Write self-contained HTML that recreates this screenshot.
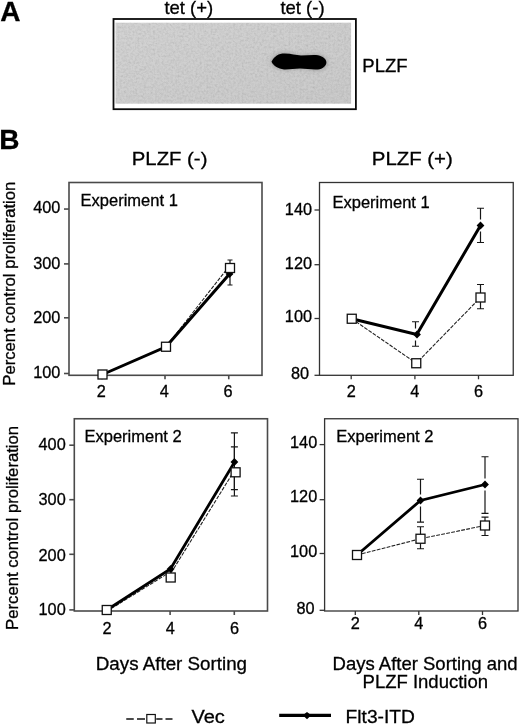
<!DOCTYPE html>
<html lang="en"><head><meta charset="utf-8"><title>Figure</title>
<style>
html,body{margin:0;padding:0;background:#fff;}
body{width:520px;height:726px;overflow:hidden;}
svg{display:block;}
text{font-family:"Liberation Sans",Arial,Helvetica,sans-serif;fill:#000;stroke:#000;stroke-width:0.3px;}
.t16{font-size:16.7px;}
.t18{font-size:18px;}
.t19{font-size:19.6px;}
.t185{font-size:18.5px;}
.tt{font-size:16.5px;}
.tk{font-size:16.3px;}
.t188{font-size:18.9px;}
.bold{font-size:28px;font-weight:bold;fill:#000;}
</style></head>
<body>
<svg width="520" height="726" viewBox="0 0 520 726">
<defs>
<linearGradient id="gg" x1="0" y1="0" x2="1" y2="1"><stop offset="0" stop-color="#d3d3d3"/><stop offset="1" stop-color="#cacaca"/></linearGradient>
<filter id="blur" x="-20%" y="-50%" width="140%" height="200%"><feGaussianBlur stdDeviation="0.7"/></filter>
<filter id="blur2" x="-30%" y="-80%" width="160%" height="260%"><feGaussianBlur stdDeviation="2.2"/></filter>
<filter id="noise" x="0" y="0" width="100%" height="100%">
<feTurbulence type="fractalNoise" baseFrequency="0.45" numOctaves="3" seed="3" result="n"/>
<feColorMatrix in="n" type="matrix" values="0 0 0 0 0  0 0 0 0 0  0 0 0 0 0  0.2 0.2 0.2 0 -0.25" result="a"/>
<feComposite in="a" in2="SourceGraphic" operator="in" result="dots"/>
<feMerge><feMergeNode in="SourceGraphic"/><feMergeNode in="dots"/></feMerge>
</filter>
</defs>
<rect width="520" height="726" fill="#fff"/>

<text x="0.3" y="20.7" class="bold">A</text>
<text x="188.8" y="13.6" text-anchor="middle" class="t185">tet (+)</text>
<text x="302.5" y="13.6" text-anchor="middle" class="t185">tet (-)</text>
<rect x="113.5" y="19.0" width="242.4" height="90.2" fill="#fff" stroke="#0a0a0a" stroke-width="1.8"/>
<rect x="115.5" y="22.7" width="235.6" height="81" fill="url(#gg)" filter="url(#noise)"/>
<g filter="url(#blur2)"><path d="M270.5 61.8C274 55 279 52.6 285 52.8C291 53 296 55.6 301 55.6C306 55.6 311 54.4 316 54.6C322 54.8 326.5 57.5 327.2 62C327.5 66.5 323 70 318 70.2C312 70.4 306 68.4 300 68.4C294 68.4 290 69.8 284 69.6C278 69.4 273 67 270.5 61.8Z" fill="#777" opacity="0.55"/></g>
<g filter="url(#blur)"><path d="M271.5 61.8C274.5 56 279 53.4 285 53.6C291 53.8 296 55.4 301 55.4C306 55.4 311 54.8 316 55C321.5 55.6 325.8 58 326.4 62C326.6 66 322.5 69.2 318 69.4C312 69.8 306 68.6 300 68.6C294 68.6 290 69.6 284 69.4C278 68.6 274 66.5 271.5 61.8Z" fill="#000"/></g>
<text x="362.3" y="71.5" class="t185">PLZF</text>
<text x="-0.8" y="148.5" class="bold">B</text>
<text transform="translate(169.6,165) scale(1.075,1)" text-anchor="middle" class="t188">PLZF (-)</text>
<text transform="translate(412.3,165) scale(1.08,1)" text-anchor="middle" class="t188">PLZF (+)</text>

<rect x="69.0" y="182.5" width="193.0" height="192.8" fill="#fff" stroke="#4a4a4a" stroke-width="1.6"/>
<line x1="64.0" y1="209.05" x2="69.0" y2="209.05" stroke="#4a4a4a" stroke-width="1.6"/>
<text x="60.4" y="213.35" text-anchor="end" class="tk">400</text>
<line x1="64.0" y1="263.9" x2="69.0" y2="263.9" stroke="#4a4a4a" stroke-width="1.6"/>
<text x="60.4" y="268.65" text-anchor="end" class="tk">300</text>
<line x1="64.0" y1="317.8" x2="69.0" y2="317.8" stroke="#4a4a4a" stroke-width="1.6"/>
<text x="60.4" y="322.55" text-anchor="end" class="tk">200</text>
<line x1="64.0" y1="373.5" x2="69.0" y2="373.5" stroke="#4a4a4a" stroke-width="1.6"/>
<text x="60.4" y="378.25" text-anchor="end" class="tk">100</text>
<line x1="102" y1="375.3" x2="102" y2="379.3" stroke="#4a4a4a" stroke-width="1.6"/>
<text x="101.4" y="396.8" text-anchor="middle" class="tk">2</text>
<line x1="165" y1="375.3" x2="165" y2="379.3" stroke="#4a4a4a" stroke-width="1.6"/>
<text x="164.4" y="396.8" text-anchor="middle" class="tk">4</text>
<line x1="228.75" y1="375.3" x2="228.75" y2="379.3" stroke="#4a4a4a" stroke-width="1.6"/>
<text x="228.15" y="396.8" text-anchor="middle" class="tk">6</text>
<text x="80.6" y="205.6" class="tt">Experiment 1</text>
<path d="M102.5 374.5L166 346.75L226 270.3" stroke="#222" stroke-width="1.1" fill="none" stroke-dasharray="3.8 1.3"/>
<path d="M102.5 374.5L166 346.75L229.5 274" stroke="#000" stroke-width="3.0" fill="none" stroke-linejoin="miter"/>
<path d="M230 260V268M227.5 260H232.5M227.5 268H232.5" stroke="#161616" stroke-width="1.2" fill="none"/>
<path d="M230 274V285M227.5 274H232.5M227.5 285H232.5" stroke="#161616" stroke-width="1.2" fill="none"/>
<path d="M225.6 274L229.5 270.1L233.4 274L229.5 277.9Z" fill="#000"/>
<rect x="98.0" y="370.0" width="9" height="9" fill="#fff" stroke="#111" stroke-width="1.3"/>
<rect x="161.5" y="342.25" width="9" height="9" fill="#fff" stroke="#111" stroke-width="1.3"/>
<rect x="225.5" y="263.5" width="9" height="9" fill="#fff" stroke="#111" stroke-width="1.3"/>
<rect x="319.5" y="182.5" width="193.75" height="192.8" fill="#fff" stroke="#333" stroke-width="1.3"/>
<line x1="314.5" y1="210" x2="319.5" y2="210" stroke="#333" stroke-width="1.3"/>
<text x="312.0" y="215.25" text-anchor="end" class="tk">140</text>
<line x1="314.5" y1="264.7" x2="319.5" y2="264.7" stroke="#333" stroke-width="1.3"/>
<text x="312.0" y="269.05" text-anchor="end" class="tk">120</text>
<line x1="314.5" y1="318.5" x2="319.5" y2="318.5" stroke="#333" stroke-width="1.3"/>
<text x="312.0" y="322.15" text-anchor="end" class="tk">100</text>
<line x1="314.5" y1="375.3" x2="319.5" y2="375.3" stroke="#333" stroke-width="1.3"/>
<text x="309.20000000000005" y="379.25" text-anchor="end" class="tk">80</text>
<line x1="351.2" y1="375.3" x2="351.2" y2="379.3" stroke="#333" stroke-width="1.3"/>
<text x="351.2" y="396.5" text-anchor="middle" class="tk">2</text>
<line x1="414.9" y1="375.3" x2="414.9" y2="379.3" stroke="#333" stroke-width="1.3"/>
<text x="414.9" y="396.5" text-anchor="middle" class="tk">4</text>
<line x1="478.5" y1="375.3" x2="478.5" y2="379.3" stroke="#333" stroke-width="1.3"/>
<text x="478.5" y="396.5" text-anchor="middle" class="tk">6</text>
<text x="332.5" y="207.6" class="tt">Experiment 1</text>
<path d="M351.75 318.75L416.25 363.25L480.5 297.5" stroke="#222" stroke-width="1.1" fill="none" stroke-dasharray="3.8 1.3"/>
<path d="M351.75 318.75L416.75 334.5L480.5 225.5" stroke="#000" stroke-width="3.0" fill="none" stroke-linejoin="miter"/>
<path d="M415.5 321.75V328.5M415.5 340.5V346.25M412.0 321.75H419.0M412.0 346.25H419.0" stroke="#161616" stroke-width="1.2" fill="none"/>
<path d="M480.5 208.25V219.5M480.5 231.5V242.5M477.0 208.25H484.0M477.0 242.5H484.0" stroke="#161616" stroke-width="1.2" fill="none"/>
<path d="M480.5 284.5V308.75M477.0 284.5H484.0M477.0 308.75H484.0" stroke="#161616" stroke-width="1.2" fill="none"/>
<path d="M413.1 334.5L417 330.6L420.9 334.5L417 338.4Z" fill="#000"/>
<path d="M476.6 225.5L480.5 221.6L484.4 225.5L480.5 229.4Z" fill="#000"/>
<rect x="347.25" y="314.25" width="9" height="9" fill="#fff" stroke="#111" stroke-width="1.3"/>
<rect x="411.75" y="358.75" width="9" height="9" fill="#fff" stroke="#111" stroke-width="1.3"/>
<rect x="476.0" y="293.0" width="9" height="9" fill="#fff" stroke="#111" stroke-width="1.3"/>
<rect x="74.3" y="418.75" width="193.2" height="192.25" fill="#fff" stroke="#4a4a4a" stroke-width="1.6"/>
<line x1="69.3" y1="445.2" x2="74.3" y2="445.2" stroke="#4a4a4a" stroke-width="1.6"/>
<text x="65.69999999999999" y="449.65" text-anchor="end" class="tk">400</text>
<line x1="69.3" y1="499.7" x2="74.3" y2="499.7" stroke="#4a4a4a" stroke-width="1.6"/>
<text x="65.69999999999999" y="505.25" text-anchor="end" class="tk">300</text>
<line x1="69.3" y1="554.3" x2="74.3" y2="554.3" stroke="#4a4a4a" stroke-width="1.6"/>
<text x="65.69999999999999" y="560.95" text-anchor="end" class="tk">200</text>
<line x1="69.3" y1="609.9" x2="74.3" y2="609.9" stroke="#4a4a4a" stroke-width="1.6"/>
<text x="65.69999999999999" y="615.15" text-anchor="end" class="tk">100</text>
<line x1="106.85" y1="611" x2="106.85" y2="615" stroke="#4a4a4a" stroke-width="1.6"/>
<text x="107.05" y="633.5" text-anchor="middle" class="tk">2</text>
<line x1="170.1" y1="611" x2="170.1" y2="615" stroke="#4a4a4a" stroke-width="1.6"/>
<text x="170.29999999999998" y="633.5" text-anchor="middle" class="tk">4</text>
<line x1="234.3" y1="611" x2="234.3" y2="615" stroke="#4a4a4a" stroke-width="1.6"/>
<text x="234.5" y="633.5" text-anchor="middle" class="tk">6</text>
<text x="84.5" y="441.75" class="tt">Experiment 2</text>
<path d="M106.75 611.3L166.5 574.3" stroke="#222" stroke-width="1.1" fill="none" stroke-dasharray="3.8 1.3"/>
<path d="M171.1 572.8L232.2 474" stroke="#222" stroke-width="1.1" fill="none" stroke-dasharray="3.8 1.3"/>
<path d="M106.75 610L170.4 568.9L234.6 462" stroke="#000" stroke-width="2.8" fill="none" stroke-linejoin="miter"/>
<path d="M234.4 432.8V489.7M230.9 432.8H237.9M230.9 489.7H237.9" stroke="#161616" stroke-width="1.2" fill="none"/>
<path d="M234.4 446.9V496M230.9 446.9H237.9M230.9 496H237.9" stroke="#161616" stroke-width="1.2" fill="none"/>
<path d="M166.7 569L170.6 565.1L174.5 569L170.6 572.9Z" fill="#000"/>
<path d="M230.5 462L234.4 458.1L238.3 462L234.4 465.9Z" fill="#000"/>
<rect x="102.25" y="605.5" width="9" height="9" fill="#fff" stroke="#111" stroke-width="1.3"/>
<rect x="166.2" y="573.0" width="9" height="9" fill="#fff" stroke="#111" stroke-width="1.3"/>
<rect x="231.1" y="467.8" width="9" height="9" fill="#fff" stroke="#111" stroke-width="1.3"/>
<rect x="324.6" y="418.75" width="193.39999999999998" height="192.25" fill="#fff" stroke="#333" stroke-width="1.3"/>
<line x1="319.6" y1="444.6" x2="324.6" y2="444.6" stroke="#333" stroke-width="1.3"/>
<text x="317.20000000000005" y="447.85" text-anchor="end" class="tk">140</text>
<line x1="319.6" y1="499.7" x2="324.6" y2="499.7" stroke="#333" stroke-width="1.3"/>
<text x="317.20000000000005" y="502.35" text-anchor="end" class="tk">120</text>
<line x1="319.6" y1="553.5" x2="324.6" y2="553.5" stroke="#333" stroke-width="1.3"/>
<text x="317.20000000000005" y="557.05" text-anchor="end" class="tk">100</text>
<line x1="319.6" y1="610.3" x2="324.6" y2="610.3" stroke="#333" stroke-width="1.3"/>
<text x="314.5" y="613.75" text-anchor="end" class="tk">80</text>
<line x1="355.3" y1="611" x2="355.3" y2="615" stroke="#333" stroke-width="1.3"/>
<text x="355.3" y="628.9" text-anchor="middle" class="tk">2</text>
<line x1="418.8" y1="611" x2="418.8" y2="615" stroke="#333" stroke-width="1.3"/>
<text x="418.8" y="628.9" text-anchor="middle" class="tk">4</text>
<line x1="482.5" y1="611" x2="482.5" y2="615" stroke="#333" stroke-width="1.3"/>
<text x="482.5" y="628.9" text-anchor="middle" class="tk">6</text>
<text x="336.25" y="441.75" class="tt">Experiment 2</text>
<path d="M357 555L420.5 538.75L485 525.5" stroke="#222" stroke-width="1.1" fill="none" stroke-dasharray="3.8 1.3"/>
<path d="M357 555L420.5 500.5L485 484.5" stroke="#000" stroke-width="2.8" fill="none" stroke-linejoin="miter"/>
<path d="M420.5 479.25V494.5M420.5 506.5V522.2M417.0 479.25H424.0M417.0 522.2H424.0" stroke="#161616" stroke-width="1.2" fill="none"/>
<path d="M420.5 526.75V548.75M417.0 526.75H424.0M417.0 548.75H424.0" stroke="#161616" stroke-width="1.2" fill="none"/>
<path d="M485 456.75V478.5M485 490.5V513.4M481.5 456.75H488.5M481.5 513.4H488.5" stroke="#161616" stroke-width="1.2" fill="none"/>
<path d="M485 517.2V535.5M481.5 517.2H488.5M481.5 535.5H488.5" stroke="#161616" stroke-width="1.2" fill="none"/>
<path d="M416.6 500.5L420.5 496.6L424.4 500.5L420.5 504.4Z" fill="#000"/>
<path d="M481.1 484.5L485 480.6L488.9 484.5L485 488.4Z" fill="#000"/>
<rect x="352.5" y="550.5" width="9" height="9" fill="#fff" stroke="#111" stroke-width="1.3"/>
<rect x="416.0" y="534.25" width="9" height="9" fill="#fff" stroke="#111" stroke-width="1.3"/>
<rect x="480.5" y="521.0" width="9" height="9" fill="#fff" stroke="#111" stroke-width="1.3"/>

<text transform="translate(15.1,283.7) rotate(-90)" text-anchor="middle" class="t16">Percent control proliferation</text>
<text transform="translate(17.5,527.9) rotate(-90)" text-anchor="middle" class="t16">Percent control proliferation</text>
<text transform="translate(171.4,670.2) scale(1.015,1)" text-anchor="middle" class="t185">Days After Sorting</text>
<text x="425.1" y="670.2" text-anchor="middle" class="t185">Days After Sorting and</text>
<text x="425.3" y="687.9" text-anchor="middle" class="t185">PLZF Induction</text>
<path d="M126.25 719H133.75M137 719H145M156.25 719H162.5M165.5 719H172.5" stroke="#111" stroke-width="1.3" fill="none"/>
<rect x="146.8" y="714.5" width="8.5" height="8.5" fill="#fff" stroke="#111" stroke-width="1.2"/>
<text transform="translate(191.4,723) scale(1.06,1)" class="t188">Vec</text>
<path d="M279.2 715.3H331" stroke="#000" stroke-width="3.3" fill="none"/>
<path d="M302.8 715.3L307 711.9L311.2 715.3L307 719.2Z" fill="#000"/>
<text transform="translate(345.6,723) scale(1.015,1)" class="t188">Flt3-ITD</text>

</svg>
</body></html>
